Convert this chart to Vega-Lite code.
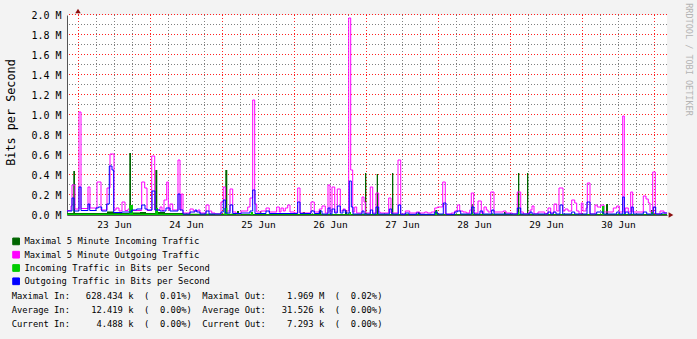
{
"$schema": "https://vega.github.io/schema/vega-lite/v6.json",
"width": 600, "height": 200,
"autosize": {"type": "none"},
"padding": {"left": 67, "top": 15, "right": 30, "bottom": 124},
"background": "#f3f3f3",
"config": {
  "view": {"fill": "#ffffff", "stroke": null},
  "font": "DejaVu Sans Mono",
  "axis": {"labelFont": "DejaVu Sans Mono", "titleFont": "DejaVu Sans Mono", "labelColor": "#000000", "titleColor": "#000000", "titleFontWeight": "normal", "grid": false}
},
"datasets": {
  "gx": [{"t":0,"major":true},{"t":6,"major":false},{"t":12,"major":false},{"t":18,"major":false},{"t":24,"major":true},{"t":30,"major":false},{"t":36,"major":false},{"t":42,"major":false},{"t":48,"major":true},{"t":54,"major":false},{"t":60,"major":false},{"t":66,"major":false},{"t":72,"major":true},{"t":78,"major":false},{"t":84,"major":false},{"t":90,"major":false},{"t":96,"major":true},{"t":102,"major":false},{"t":108,"major":false},{"t":114,"major":false},{"t":120,"major":true},{"t":126,"major":false},{"t":132,"major":false},{"t":138,"major":false},{"t":144,"major":true},{"t":150,"major":false},{"t":156,"major":false},{"t":162,"major":false},{"t":168,"major":true},{"t":174,"major":false},{"t":180,"major":false},{"t":186,"major":false},{"t":192,"major":true}],
  "gy": [{"v":100000,"major":false},{"v":200000,"major":true},{"v":300000,"major":false},{"v":400000,"major":true},{"v":500000,"major":false},{"v":600000,"major":true},{"v":700000,"major":false},{"v":800000,"major":true},{"v":900000,"major":false},{"v":1000000,"major":true},{"v":1100000,"major":false},{"v":1200000,"major":true},{"v":1300000,"major":false},{"v":1400000,"major":true},{"v":1500000,"major":false},{"v":1600000,"major":true},{"v":1700000,"major":false},{"v":1800000,"major":true},{"v":1900000,"major":false},{"v":2000000,"major":true}],
  "maxin": [{"t":-3.67,"v":20000},{"t":-1.57,"v":440000},{"t":-1,"v":20000},{"t":9.67,"v":35000},{"t":12,"v":20000},{"t":17.1,"v":620000},{"t":17.67,"v":25000},{"t":20.67,"v":30000},{"t":22.67,"v":20000},{"t":25.77,"v":450000},{"t":26.43,"v":30000},{"t":29,"v":20000},{"t":35,"v":12000},{"t":49.1,"v":450000},{"t":49.77,"v":12000},{"t":53,"v":40000},{"t":53.67,"v":10000},{"t":60.67,"v":40000},{"t":61.1,"v":10000},{"t":74.9,"v":30000},{"t":75.67,"v":10000},{"t":80.33,"v":50000},{"t":81,"v":10000},{"t":89,"v":50000},{"t":89.67,"v":10000},{"t":95.67,"v":420000},{"t":96.1,"v":10000},{"t":99.57,"v":410000},{"t":100,"v":10000},{"t":104.67,"v":420000},{"t":105.1,"v":10000},{"t":113.33,"v":30000},{"t":113.9,"v":10000},{"t":119.1,"v":50000},{"t":119.77,"v":10000},{"t":131,"v":110000},{"t":131.57,"v":10000},{"t":142,"v":30000},{"t":142.57,"v":10000},{"t":146.67,"v":420000},{"t":147.1,"v":10000},{"t":149.67,"v":420000},{"t":150.1,"v":10000},{"t":176,"v":110000},{"t":176.67,"v":10000},{"t":191,"v":50000},{"t":191.67,"v":10000},{"t":196.33,"v":10000}],
  "maxout": [{"t":-3.67,"v":45000},{"t":-2.33,"v":90000},{"t":-2,"v":300000},{"t":-1,"v":60000},{"t":0.33,"v":1030000},{"t":1,"v":65000},{"t":3.33,"v":280000},{"t":4,"v":70000},{"t":6.33,"v":330000},{"t":7.67,"v":50000},{"t":9.67,"v":270000},{"t":10.67,"v":610000},{"t":12,"v":50000},{"t":12.67,"v":70000},{"t":13.67,"v":40000},{"t":14.67,"v":130000},{"t":15.67,"v":45000},{"t":16.67,"v":60000},{"t":17.67,"v":45000},{"t":21.23,"v":330000},{"t":22.23,"v":270000},{"t":23,"v":45000},{"t":24.57,"v":590000},{"t":25.57,"v":50000},{"t":27.33,"v":80000},{"t":28,"v":45000},{"t":28.67,"v":150000},{"t":29.57,"v":330000},{"t":30.1,"v":50000},{"t":30.67,"v":110000},{"t":31.57,"v":50000},{"t":33.33,"v":550000},{"t":34,"v":50000},{"t":34.43,"v":210000},{"t":35,"v":20000},{"t":37.33,"v":60000},{"t":38.43,"v":40000},{"t":40,"v":50000},{"t":40.67,"v":20000},{"t":42.67,"v":100000},{"t":43.67,"v":40000},{"t":44.57,"v":20000},{"t":45.67,"v":10000},{"t":47.67,"v":130000},{"t":48.43,"v":280000},{"t":49.1,"v":40000},{"t":50.67,"v":260000},{"t":51.57,"v":30000},{"t":52.67,"v":10000},{"t":54.33,"v":40000},{"t":56.57,"v":80000},{"t":57.33,"v":170000},{"t":58.23,"v":1150000},{"t":58.9,"v":110000},{"t":59.57,"v":30000},{"t":61,"v":40000},{"t":62.67,"v":70000},{"t":63.77,"v":30000},{"t":66.23,"v":80000},{"t":67.1,"v":30000},{"t":67.67,"v":70000},{"t":68.43,"v":40000},{"t":69.1,"v":70000},{"t":69.9,"v":100000},{"t":70.67,"v":30000},{"t":72.1,"v":20000},{"t":73.23,"v":270000},{"t":74,"v":20000},{"t":77.67,"v":130000},{"t":78.77,"v":30000},{"t":80.43,"v":60000},{"t":81.33,"v":90000},{"t":82.43,"v":20000},{"t":83.33,"v":300000},{"t":84,"v":30000},{"t":84.67,"v":280000},{"t":85.57,"v":30000},{"t":86.43,"v":260000},{"t":87.43,"v":40000},{"t":88.33,"v":60000},{"t":89.1,"v":40000},{"t":90.23,"v":1970000},{"t":90.9,"v":450000},{"t":91.57,"v":30000},{"t":92.23,"v":80000},{"t":92.9,"v":20000},{"t":94.67,"v":180000},{"t":95.33,"v":130000},{"t":95.77,"v":20000},{"t":97.43,"v":280000},{"t":98.23,"v":20000},{"t":99.33,"v":220000},{"t":100.23,"v":30000},{"t":100.77,"v":20000},{"t":103.57,"v":170000},{"t":104.33,"v":20000},{"t":106.67,"v":550000},{"t":107.57,"v":10000},{"t":109.1,"v":40000},{"t":110.57,"v":20000},{"t":112.77,"v":30000},{"t":113.9,"v":20000},{"t":115.57,"v":30000},{"t":116.43,"v":20000},{"t":117.77,"v":30000},{"t":118.9,"v":70000},{"t":119.77,"v":80000},{"t":121.57,"v":330000},{"t":122.43,"v":10000},{"t":124.43,"v":20000},{"t":125.57,"v":40000},{"t":126.43,"v":100000},{"t":127.23,"v":40000},{"t":128.33,"v":30000},{"t":129.43,"v":20000},{"t":130.57,"v":50000},{"t":131.1,"v":220000},{"t":131.9,"v":20000},{"t":133.33,"v":140000},{"t":134.43,"v":20000},{"t":135.33,"v":80000},{"t":136.1,"v":50000},{"t":136.67,"v":30000},{"t":137.57,"v":230000},{"t":138.67,"v":30000},{"t":141.77,"v":40000},{"t":142.67,"v":20000},{"t":144.77,"v":10000},{"t":146.43,"v":230000},{"t":147.57,"v":30000},{"t":148.43,"v":10000},{"t":150,"v":20000},{"t":150.67,"v":50000},{"t":151.33,"v":90000},{"t":152,"v":10000},{"t":153.33,"v":30000},{"t":155.57,"v":10000},{"t":156.67,"v":70000},{"t":157.57,"v":20000},{"t":158.67,"v":110000},{"t":159.57,"v":40000},{"t":160.33,"v":270000},{"t":161.67,"v":40000},{"t":162.33,"v":60000},{"t":163.33,"v":40000},{"t":164.57,"v":150000},{"t":165.57,"v":120000},{"t":166.23,"v":40000},{"t":167,"v":10000},{"t":167.77,"v":120000},{"t":168.33,"v":40000},{"t":169.33,"v":70000},{"t":169.77,"v":320000},{"t":170.67,"v":10000},{"t":172.33,"v":100000},{"t":173.1,"v":80000},{"t":174.23,"v":100000},{"t":175.33,"v":30000},{"t":178.43,"v":70000},{"t":179.57,"v":90000},{"t":180.43,"v":30000},{"t":181.57,"v":990000},{"t":182.1,"v":30000},{"t":182.43,"v":70000},{"t":183.43,"v":30000},{"t":184.23,"v":230000},{"t":184.9,"v":30000},{"t":188.43,"v":190000},{"t":189.33,"v":160000},{"t":190.1,"v":120000},{"t":190.67,"v":30000},{"t":191.57,"v":430000},{"t":192.43,"v":10000},{"t":194,"v":40000},{"t":195.33,"v":20000},{"t":196.33,"v":20000}],
  "inb": [{"t":-3.67,"v":12000},{"t":17.1,"v":100000},{"t":18.33,"v":12000},{"t":25.77,"v":70000},{"t":26.67,"v":12000},{"t":35,"v":6000},{"t":48.77,"v":70000},{"t":49.77,"v":6000},{"t":57.57,"v":30000},{"t":58.33,"v":6000},{"t":90.43,"v":30000},{"t":91,"v":6000},{"t":95.67,"v":20000},{"t":96.1,"v":6000},{"t":119,"v":40000},{"t":119.67,"v":6000},{"t":131,"v":30000},{"t":131.67,"v":6000},{"t":146.67,"v":30000},{"t":147.1,"v":6000},{"t":174.67,"v":90000},{"t":175.43,"v":6000},{"t":191,"v":30000},{"t":191.67,"v":6000},{"t":196.33,"v":6000}],
  "outb": [{"t":-3.67,"v":40000},{"t":-2,"v":170000},{"t":-1.33,"v":40000},{"t":0.33,"v":280000},{"t":1,"v":45000},{"t":3.33,"v":110000},{"t":3.9,"v":45000},{"t":6,"v":70000},{"t":6.77,"v":80000},{"t":7.9,"v":40000},{"t":9.57,"v":110000},{"t":10.43,"v":490000},{"t":11.33,"v":450000},{"t":11.9,"v":25000},{"t":14.67,"v":30000},{"t":17.9,"v":50000},{"t":19.57,"v":60000},{"t":21.23,"v":100000},{"t":22.33,"v":60000},{"t":23.1,"v":50000},{"t":24.67,"v":240000},{"t":25.67,"v":50000},{"t":27.33,"v":40000},{"t":29.33,"v":70000},{"t":30.67,"v":40000},{"t":33.33,"v":210000},{"t":34,"v":50000},{"t":35,"v":10000},{"t":37.33,"v":30000},{"t":39,"v":50000},{"t":39.57,"v":30000},{"t":40.67,"v":10000},{"t":42.67,"v":40000},{"t":43.67,"v":10000},{"t":47.67,"v":30000},{"t":48.43,"v":150000},{"t":49.1,"v":20000},{"t":50.67,"v":100000},{"t":51.57,"v":15000},{"t":54.33,"v":20000},{"t":57.33,"v":40000},{"t":58.23,"v":250000},{"t":59,"v":15000},{"t":62.67,"v":40000},{"t":63.77,"v":15000},{"t":73.23,"v":130000},{"t":74,"v":15000},{"t":77.67,"v":40000},{"t":78.77,"v":15000},{"t":80.43,"v":40000},{"t":81.33,"v":10000},{"t":83.33,"v":70000},{"t":84,"v":10000},{"t":84.67,"v":60000},{"t":85.57,"v":20000},{"t":86.43,"v":90000},{"t":87.43,"v":20000},{"t":88.33,"v":50000},{"t":89.1,"v":20000},{"t":90.43,"v":340000},{"t":91.1,"v":80000},{"t":91.67,"v":10000},{"t":94.67,"v":40000},{"t":95.33,"v":10000},{"t":97.43,"v":50000},{"t":98.23,"v":10000},{"t":99.33,"v":80000},{"t":100.23,"v":10000},{"t":103.77,"v":60000},{"t":104.57,"v":10000},{"t":106.77,"v":100000},{"t":107.57,"v":7000},{"t":109.1,"v":20000},{"t":110.33,"v":7000},{"t":112.77,"v":20000},{"t":113.9,"v":7000},{"t":118.9,"v":30000},{"t":119.77,"v":10000},{"t":121.77,"v":120000},{"t":122.67,"v":7000},{"t":125.57,"v":30000},{"t":126.43,"v":40000},{"t":127.57,"v":10000},{"t":131.23,"v":80000},{"t":132,"v":10000},{"t":134,"v":40000},{"t":134.9,"v":10000},{"t":137.9,"v":50000},{"t":138.67,"v":10000},{"t":146.43,"v":70000},{"t":147.57,"v":10000},{"t":150.67,"v":30000},{"t":151.33,"v":10000},{"t":156.67,"v":30000},{"t":157.57,"v":10000},{"t":158.43,"v":30000},{"t":159.33,"v":10000},{"t":160.67,"v":100000},{"t":161.57,"v":10000},{"t":164.57,"v":30000},{"t":165.57,"v":10000},{"t":169.67,"v":130000},{"t":170.67,"v":10000},{"t":172.9,"v":30000},{"t":175.1,"v":10000},{"t":179.57,"v":30000},{"t":180.43,"v":10000},{"t":181.57,"v":180000},{"t":182.1,"v":10000},{"t":182.43,"v":30000},{"t":183.43,"v":10000},{"t":184.43,"v":80000},{"t":185.1,"v":10000},{"t":188.43,"v":30000},{"t":189.57,"v":10000},{"t":191.77,"v":80000},{"t":192.57,"v":10000},{"t":194.57,"v":20000},{"t":196.33,"v":20000}]
},
"title": {
  "text": [
    "Maximal\u00a0In:\u00a0\u00a0\u00a0628.434\u00a0k\u00a0\u00a0(\u00a0\u00a00.01%)\u00a0\u00a0Maximal\u00a0Out:\u00a0\u00a0\u00a0\u00a01.969\u00a0M\u00a0\u00a0(\u00a0\u00a00.02%)",
    "Average\u00a0In:\u00a0\u00a0\u00a0\u00a012.419\u00a0k\u00a0\u00a0(\u00a0\u00a00.00%)\u00a0\u00a0Average\u00a0Out:\u00a0\u00a0\u00a031.526\u00a0k\u00a0\u00a0(\u00a0\u00a00.00%)",
    "Current\u00a0In:\u00a0\u00a0\u00a0\u00a0\u00a04.488\u00a0k\u00a0\u00a0(\u00a0\u00a00.00%)\u00a0\u00a0Current\u00a0Out:\u00a0\u00a0\u00a0\u00a07.293\u00a0k\u00a0\u00a0(\u00a0\u00a00.00%)"
  ],
  "orient": "bottom", "anchor": "start", "frame": "group",
  "font": "DejaVu Sans Mono", "fontSize": 8.8, "fontWeight": "normal", "color": "#000000",
  "lineHeight": 14, "dx": -55.3, "offset": 5
},
"layer": [
  {"data": {"name": "gx"}, "mark": {"type": "rule", "strokeWidth": 1, "strokeDash": [1, 2]},
   "encoding": {
     "x": {"field": "t", "type": "quantitative", "scale": {"domain": [-3.6666667, 196.3333333], "range": [0.5, 600.5], "nice": false, "zero": false}, "axis": null},
     "stroke": {"condition": {"test": "datum.major", "value": "#ff2020"}, "value": "#808080"}}},
  {"data": {"name": "gy"}, "mark": {"type": "rule", "strokeWidth": 1, "strokeDash": [1, 2]},
   "encoding": {
     "y": {"field": "v", "type": "quantitative", "scale": {"domain": [0, 2000000], "range": [199.5, -0.5], "nice": false, "zero": false}, "axis": null},
     "stroke": {"condition": {"test": "datum.major", "value": "#ff2020"}, "value": "#808080"}}},
  {"data": {"name": "maxin"}, "mark": {"type": "area", "interpolate": "step-after"},
   "encoding": {
     "x": {"field": "t", "type": "quantitative", "scale": {"domain": [-3.6666667, 196.3333333], "nice": false, "zero": false},
       "axis": {"values": [12,36,60,84,108,132,156,180],
         "labelExpr": "(23 + floor(datum.value / 24)) + ' Jun'",
         "title": null, "ticks": false, "domainColor": "#555555", "labelFontSize": 9.5, "labelPadding": 4,
         "labelOverlap": false, "labelFlush": false, "grid": false}},
     "y": {"field": "v", "type": "quantitative", "scale": {"domain": [0, 2000000], "nice": false, "zero": false},
       "axis": {"values": [0,200000,400000,600000,800000,1000000,1200000,1400000,1600000,1800000,2000000],
         "labelExpr": "format(datum.value / 1000000, '.1f') + ' M'",
         "title": "Bits per Second", "titleFontSize": 11.8, "titleX": -57, "titleY": 97, "titleAlign": "center", "titleBaseline": "middle", "titleAngle": -90,
         "ticks": false, "domainColor": "#555555", "labelFontSize": 10, "labelPadding": 6, "labelOverlap": false, "labelFlush": false, "grid": false}},
     "color": {"datum": "Maximal 5 Minute Incoming Traffic",
       "scale": {"domain": ["Maximal 5 Minute Incoming Traffic", "Maximal 5 Minute Outgoing Traffic", "Incoming Traffic in Bits per Second", "Outgoing Traffic in Bits per Second"], "range": ["#006600", "#ff00ff", "#00cc00", "#0000ff"]},
       "legend": {"orient": "none", "legendX": -55.3, "legendY": 222, "direction": "vertical", "title": null,
         "symbolType": "square", "symbolSize": 45, "symbolStrokeColor": "#000000", "symbolStrokeWidth": 1, "symbolOpacity": 1,
         "labelFont": "DejaVu Sans Mono", "labelFontSize": 8.8, "labelColor": "#000000", "rowPadding": 2.3, "padding": 0, "labelOffset": 4, "labelLimit": 0}}}},
  {"data": {"name": "maxout"}, "mark": {"type": "line", "interpolate": "step-after", "strokeWidth": 1},
   "encoding": {
     "x": {"field": "t", "type": "quantitative", "scale": {"domain": [-3.6666667, 196.3333333], "nice": false, "zero": false}, "axis": null},
     "y": {"field": "v", "type": "quantitative", "scale": {"domain": [0, 2000000], "nice": false, "zero": false}, "axis": null},
     "color": {"datum": "Maximal 5 Minute Outgoing Traffic"}}},
  {"data": {"name": "inb"}, "mark": {"type": "area", "interpolate": "step-after"},
   "encoding": {
     "x": {"field": "t", "type": "quantitative", "scale": {"domain": [-3.6666667, 196.3333333], "nice": false, "zero": false}, "axis": null},
     "y": {"field": "v", "type": "quantitative", "scale": {"domain": [0, 2000000], "nice": false, "zero": false}, "axis": null},
     "color": {"datum": "Incoming Traffic in Bits per Second"}}},
  {"data": {"name": "outb"}, "mark": {"type": "line", "interpolate": "step-after", "strokeWidth": 1},
   "encoding": {
     "x": {"field": "t", "type": "quantitative", "scale": {"domain": [-3.6666667, 196.3333333], "nice": false, "zero": false}, "axis": null},
     "y": {"field": "v", "type": "quantitative", "scale": {"domain": [0, 2000000], "nice": false, "zero": false},
       "axis": {"orient": "right", "values": [1000000],
         "title": "RRDTOOL / TOBI OETIKER", "labels": false, "ticks": false, "domain": false, "grid": false,
         "titleAngle": 90, "titleFontSize": 8.5, "titleColor": "#b4b4b4", "titleX": 21, "titleY": 44, "titleAlign": "center", "titleBaseline": "middle"}},
     "color": {"datum": "Outgoing Traffic in Bits per Second"}}},
  {"data": {"values": [{}]}, "mark": {"type": "point", "shape": "triangle-up", "filled": true, "color": "#8b1010", "size": 30, "opacity": 1},
   "encoding": {"x": {"datum": 0, "scale": {"domain": [-3.6666667, 196.3333333], "nice": false, "zero": false}, "axis": null},
     "y": {"datum": 2040000, "scale": {"domain": [0, 2000000], "nice": false, "zero": false}, "axis": null}}},
  {"data": {"values": [{}]}, "mark": {"type": "point", "shape": "triangle-right", "filled": true, "color": "#8b1010", "size": 30, "opacity": 1},
   "encoding": {"x": {"datum": 197.67, "scale": {"domain": [-3.6666667, 196.3333333], "nice": false, "zero": false}, "axis": null},
     "y": {"datum": 0, "scale": {"domain": [0, 2000000], "nice": false, "zero": false}, "axis": null}}}
],
"resolve": {"scale": {"x": "independent", "y": "independent"}, "axis": {"x": "independent", "y": "independent"}}
}
